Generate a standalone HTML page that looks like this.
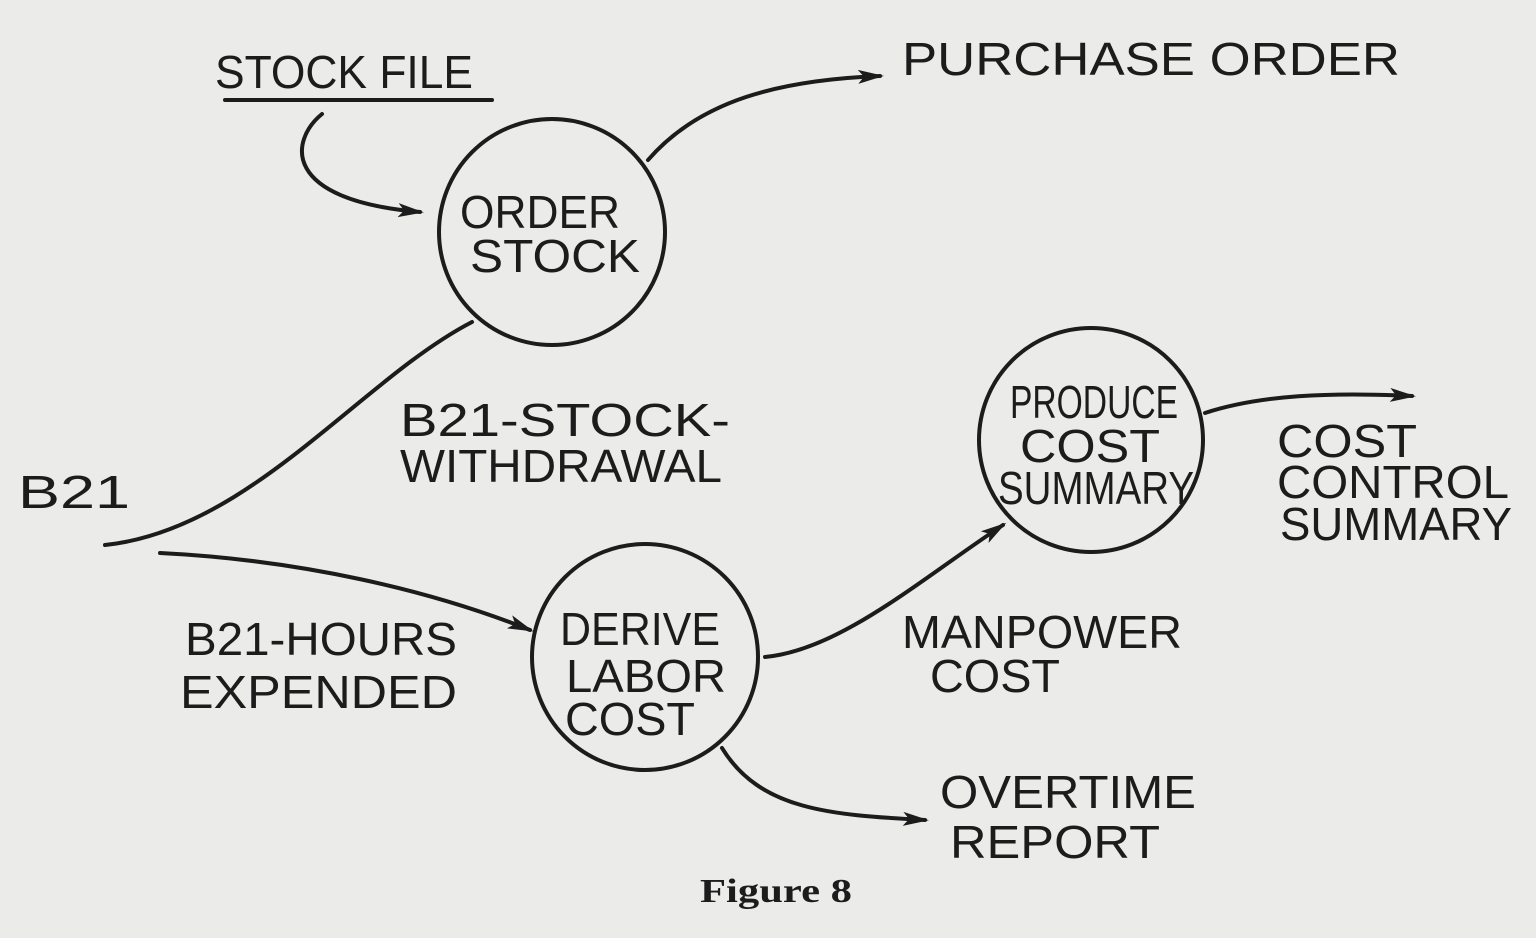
<!DOCTYPE html>
<html><head><meta charset="utf-8"><style>
html,body{margin:0;padding:0;background:#ebebea;}
svg{display:block}
text{font-family:"Liberation Sans",sans-serif;fill:#1c1c1c;}
.h{font-size:46px;font-weight:normal;}
</style></head><body>
<svg width="1536" height="938" viewBox="0 0 1536 938" xmlns="http://www.w3.org/2000/svg">
<rect width="1536" height="938" fill="#ebebea"/>
<defs><marker id="a" markerWidth="26" markerHeight="14" refX="22" refY="7" orient="auto" markerUnits="userSpaceOnUse"><path d="M0,0 L26,7 L0,14 L6,7 Z" fill="#1c1c1c"/></marker></defs>
<g fill="none" stroke="#1c1c1c" stroke-width="4" stroke-linecap="round">
<circle cx="552" cy="232" r="113"/>
<circle cx="1091" cy="440" r="112"/>
<circle cx="645" cy="657" r="113"/>
<line x1="225" y1="100" x2="492" y2="100"/>
<path d="M322,114 C290,140 280,200 420,212" marker-end="url(#a)"/>
<path d="M648,160 C700,100 780,80 880,76" marker-end="url(#a)"/>
<path d="M105,545 C250,530 360,380 472,322"/>
<path d="M160,553 C300,560 430,590 530,630" marker-end="url(#a)"/>
<path d="M765,657 C840,650 920,580 1003,525" marker-end="url(#a)"/>
<path d="M1205,413 C1260,395 1330,392 1412,396" marker-end="url(#a)"/>
<path d="M722,748 C760,810 830,815 925,820" marker-end="url(#a)"/>
</g>
<text class="h" x="215" y="88" textLength="258" lengthAdjust="spacingAndGlyphs">STOCK FILE</text>
<text class="h" x="902" y="75" textLength="498" lengthAdjust="spacingAndGlyphs">PURCHASE ORDER</text>
<text class="h" x="460" y="228" textLength="160" lengthAdjust="spacingAndGlyphs">ORDER</text>
<text class="h" x="470" y="272" textLength="170" lengthAdjust="spacingAndGlyphs">STOCK</text>
<text class="h" x="400" y="436" textLength="330" lengthAdjust="spacingAndGlyphs">B21-STOCK-</text>
<text class="h" x="400" y="482" textLength="322" lengthAdjust="spacingAndGlyphs">WITHDRAWAL</text>
<text class="h" x="18" y="508" textLength="112" lengthAdjust="spacingAndGlyphs">B21</text>
<text class="h" x="1010" y="418" textLength="168" lengthAdjust="spacingAndGlyphs">PRODUCE</text>
<text class="h" x="1020" y="462" textLength="140" lengthAdjust="spacingAndGlyphs">COST</text>
<text class="h" x="998" y="504" textLength="196" lengthAdjust="spacingAndGlyphs">SUMMARY</text>
<text class="h" x="1277" y="457" textLength="140" lengthAdjust="spacingAndGlyphs">COST</text>
<text class="h" x="1277" y="498" textLength="232" lengthAdjust="spacingAndGlyphs">CONTROL</text>
<text class="h" x="1280" y="540" textLength="232" lengthAdjust="spacingAndGlyphs">SUMMARY</text>
<text class="h" x="185" y="655" textLength="272" lengthAdjust="spacingAndGlyphs">B21-HOURS</text>
<text class="h" x="180" y="708" textLength="277" lengthAdjust="spacingAndGlyphs">EXPENDED</text>
<text class="h" x="560" y="645" textLength="160" lengthAdjust="spacingAndGlyphs">DERIVE</text>
<text class="h" x="566" y="692" textLength="160" lengthAdjust="spacingAndGlyphs">LABOR</text>
<text class="h" x="565" y="735" textLength="130" lengthAdjust="spacingAndGlyphs">COST</text>
<text class="h" x="902" y="648" textLength="280" lengthAdjust="spacingAndGlyphs">MANPOWER</text>
<text class="h" x="930" y="692" textLength="130" lengthAdjust="spacingAndGlyphs">COST</text>
<text class="h" x="940" y="808" textLength="256" lengthAdjust="spacingAndGlyphs">OVERTIME</text>
<text class="h" x="950" y="858" textLength="210" lengthAdjust="spacingAndGlyphs">REPORT</text>
<text x="700" y="902" style="font-family:'Liberation Serif',serif;font-weight:bold;font-size:34px" textLength="152" lengthAdjust="spacingAndGlyphs">Figure 8</text>
</svg>
</body></html>
